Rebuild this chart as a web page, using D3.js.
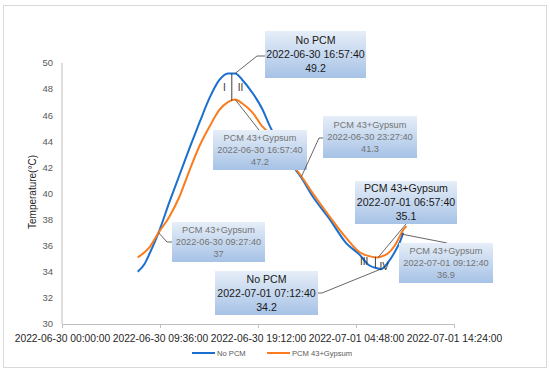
<!DOCTYPE html>
<html>
<head>
<meta charset="utf-8">
<script src="https://cdn.jsdelivr.net/npm/d3@7"></script>
<style>
body { margin:0; background:#fff; }
text { font-family: "Liberation Sans", Arial, sans-serif; }
</style>
</head>
<body>
<div id="my_viz"></div>
<script>
// ---- data ----
const times = ["2022-06-30 07:25","2022-06-30 08:05","2022-06-30 08:35","2022-06-30 09:27:40",
  "2022-06-30 10:30","2022-06-30 11:30","2022-06-30 12:30","2022-06-30 13:30","2022-06-30 14:30",
  "2022-06-30 15:25","2022-06-30 16:15","2022-06-30 16:57:40","2022-06-30 17:40","2022-06-30 18:40",
  "2022-06-30 19:40","2022-06-30 20:20","2022-06-30 21:45","2022-06-30 23:00","2022-06-30 23:27:40",
  "2022-07-01 00:35","2022-07-01 02:15","2022-07-01 03:50","2022-07-01 05:10","2022-07-01 06:05",
  "2022-07-01 06:57:40","2022-07-01 07:12:40","2022-07-01 07:55","2022-07-01 08:35",
  "2022-07-01 09:12:40","2022-07-01 09:25","2022-07-01 09:45"]
const noPcm = [34.0,34.6,35.4,37.0,39.3,41.4,43.5,45.5,47.4,48.7,49.2,49.2,48.7,47.7,46.4,45.2,43.3,41.7,41.2,
  39.75,38.0,36.2,35.3,34.5,34.25,34.2,34.7,35.5,36.5,37.0,null]
const pcm = [35.1,35.5,35.9,37.0,38.2,39.75,41.8,43.7,45.2,46.4,47.0,47.2,46.9,46.2,45.1,44.6,43.0,41.8,41.3,
  40.0,38.2,36.6,35.5,35.2,35.1,35.15,35.4,36.0,36.9,37.2,37.5]
const seriesNames = ["No PCM", "PCM 43+Gypsum"]
const xTicks = ["2022-06-30 00:00:00","2022-06-30 09:36:00","2022-06-30 19:12:00","2022-07-01 04:48:00","2022-07-01 14:24:00"]
const yTicks = [30,32,34,36,38,40,42,44,46,48,50]

// callouts: which series, time, value
const calloutSeries = [0, 1, 1, 1, 1, 1, 0]
const calloutTimes = ["2022-06-30 16:57:40","2022-06-30 16:57:40","2022-06-30 09:27:40","2022-06-30 23:27:40",
  "2022-07-01 06:57:40","2022-07-01 09:12:40","2022-07-01 07:12:40"]
const calloutValues = ["49.2","47.2","37","41.3","35.1","36.9","34.2"]

// bracket marks between the curves
const markTimes = ["2022-06-30 16:38","2022-07-01 06:42"]
const markTop = [49.2, 35.15]
const markBottom = [47.1, 34.3]
const markLabels = [["I","II"],["III","IV"]]

// ---- layout ----
const width = 550
const height = 373
const margin = {top:63, left:62}
const plot = {right:454, bottom:324}
const colors = ["#1b6fcf", "#fa7c1e"]

// box layout for each callout (x, y, w, h, leader elbow, leader end, dark text)
const boxes = [
  {x:265, y:31, w:101, h:47, elbow:[257,56], end:[265,56], dark:true},
  {x:213, y:130, w:94, h:40, elbow:[259,130], end:[259,130], dark:false},
  {x:172, y:222, w:93, h:40, elbow:[167,242], end:[172,242], dark:false},
  {x:323, y:116, w:94, h:42, elbow:[319,138], end:[323,138], dark:false},
  {x:355, y:181, w:102, h:43, elbow:[406,224], end:[406,224], dark:true},
  {x:399, y:243, w:94, h:40, elbow:[447,243], end:[447,243], dark:false},
  {x:215, y:271, w:103, h:44, elbow:[322,293], end:[318,293], dark:true}
]

const parse = d3.timeParse("%Y-%m-%d %H:%M:%S")
const parseT = s => parse(s.length == 16 ? s + ":00" : s)

var svg = d3.select("#my_viz")
  .append("svg")
  .attr("width", width)
  .attr("height", height)

// outer frame
svg.append("rect")
  .attr("x", 3.5).attr("y", 5.5)
  .attr("width", 543).attr("height", 362)
  .attr("fill", "#fff")
  .attr("stroke", "#d9d9d9")

var x = d3.scaleTime()
  .domain([parseT(xTicks[0]), parseT(xTicks[xTicks.length-1])])
  .range([margin.left, plot.right])
var y = d3.scaleLinear()
  .domain([30, 50])
  .range([plot.bottom, margin.top])

// Y axis
svg.append("line")
  .attr("x1", margin.left).attr("x2", margin.left)
  .attr("y1", margin.top).attr("y2", plot.bottom)
  .attr("stroke", "#bfbfbf")
svg.selectAll(".ylab")
  .data(yTicks)
  .enter()
  .append("text")
  .attr("x", 53)
  .attr("y", d => y(d))
  .attr("dy", "0.35em")
  .attr("text-anchor", "end")
  .style("font-size", "9.5px")
  .style("fill", "#595959")
  .text(d => d)

svg.append("text")
  .attr("transform", "translate(36," + 192 + ") rotate(-90)")
  .attr("text-anchor", "middle")
  .style("font-size", "10px")
  .style("fill", "#262626")
  .text("Temperature(°C)")

// X axis
var xg = svg.append("g")
  .attr("transform", "translate(0," + plot.bottom + ")")
  .call(d3.axisBottom(x).tickValues(xTicks.map(parseT)).tickSize(4).tickFormat((d,i) => xTicks[i]))
xg.select(".domain").attr("stroke", "#bfbfbf")
xg.selectAll(".tick line").attr("stroke", "#bfbfbf")
xg.selectAll(".tick text")
  .attr("y", 11)
  .style("font-family", "Liberation Sans, Arial, sans-serif")
  .style("font-size", "10.3px")
  .style("fill", "#262626")

// lines
const line = d3.line()
  .defined(d => d[1] != null)
  .x(d => x(d[0]))
  .y(d => y(d[1]))
  .curve(d3.curveMonotoneX)
;[noPcm, pcm].forEach((vals, k) => {
  svg.append("path")
    .attr("d", line(times.map((t,i) => [parseT(t), vals[i]])))
    .attr("fill", "none")
    .attr("stroke", colors[k])
    .attr("stroke-width", 2)
})

// bracket marks
const markGap = [[6, 6], [7, 4]]
markTimes.forEach((t, i) => {
  const mx = x(parseT(t))
  svg.append("line")
    .attr("x1", mx).attr("x2", mx)
    .attr("y1", y(markTop[i])).attr("y2", y(markBottom[i]))
    .attr("stroke", "#404040")
    .attr("stroke-width", 1)
  const my = (y(markTop[i]) + y(markBottom[i])) / 2 + (i == 0 ? 4 : 3)
  svg.append("text")
    .attr("x", mx - markGap[i][0]).attr("y", my)
    .attr("text-anchor", "end")
    .style("font-size", "10px").style("fill", "#333")
    .text(markLabels[i][0])
  svg.append("text")
    .attr("x", mx + markGap[i][1]).attr("y", my + (i == 0 ? 0 : 5))
    .style("font-size", "10px").style("fill", "#333")
    .text(markLabels[i][1])
})

// gradient for boxes
var grad = svg.append("defs").append("linearGradient")
  .attr("id", "boxgrad")
  .attr("x1", 0).attr("y1", 0).attr("x2", 0).attr("y2", 1)
grad.append("stop").attr("offset", "0%").attr("stop-color", "#e6eef8")
grad.append("stop").attr("offset", "100%").attr("stop-color", "#a6c2e6")

// callouts
calloutTimes.forEach((t, i) => {
  const b = boxes[i]
  const s = calloutSeries[i]
  const ax = x(parseT(t))
  const ay = y(+calloutValues[i])
  svg.append("path")
    .attr("d", d3.line()([[ax, ay], b.elbow, b.end]))
    .attr("fill", "none")
    .attr("stroke", "#404040")
    .attr("stroke-width", 0.8)
  svg.append("rect")
    .attr("x", b.x).attr("y", b.y)
    .attr("width", b.w).attr("height", b.h)
    .attr("fill", "url(#boxgrad)")
  const lines = [seriesNames[s], t, calloutValues[i]]
  const step = b.dark ? 14.2 : 12
  const fs = b.dark ? "10.6px" : "9.2px"
  const y0 = b.y + b.h / 2 - step
  lines.forEach((txt, j) => {
    svg.append("text")
      .attr("x", b.x + b.w / 2)
      .attr("y", y0 + j * step)
      .attr("dy", "0.35em")
      .attr("text-anchor", "middle")
      .style("font-size", fs)
      .style("fill", b.dark ? "#1a1a1a" : "#737373")
      .text(txt)
  })
})

// legend
const legendX = [192, 267]
seriesNames.forEach((n, i) => {
  svg.append("line")
    .attr("x1", legendX[i]).attr("x2", legendX[i] + 23)
    .attr("y1", 353).attr("y2", 353)
    .attr("stroke", colors[i]).attr("stroke-width", 2)
  svg.append("text")
    .attr("x", legendX[i] + 25).attr("y", 353)
    .attr("dy", "0.35em")
    .style("font-size", "7.6px")
    .style("fill", "#595959")
    .text(n)
})
</script>
</body>
</html>
